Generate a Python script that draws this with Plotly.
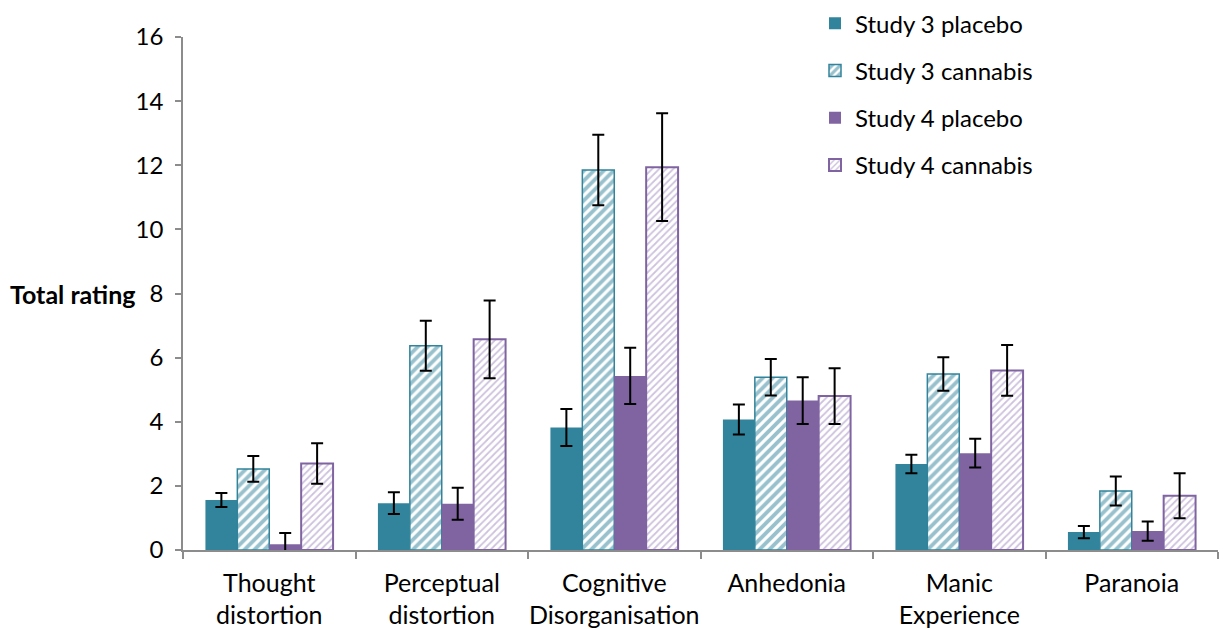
import plotly.graph_objects as go

# Symptom categories along the x axis
categories = [
    "Thought<br>distortion",
    "Perceptual<br>distortion",
    "Cognitive<br>Disorganisation",
    "Anhedonia",
    "Manic<br>Experience",
    "Paranoia",
]

# Mean total ratings per group
study3_placebo = [1.56, 1.46, 3.82, 4.07, 2.68, 0.56]
study3_cannabis = [2.53, 6.37, 11.85, 5.39, 5.49, 1.84]
study4_placebo = [0.18, 1.44, 5.43, 4.66, 3.02, 0.59]
study4_cannabis = [2.70, 6.57, 11.94, 4.80, 5.60, 1.69]

# Standard errors (error bar half-lengths)
study3_placebo_se = [0.22, 0.34, 0.58, 0.47, 0.29, 0.19]
study3_cannabis_se = [0.40, 0.78, 1.10, 0.57, 0.52, 0.45]
study4_placebo_se = [0.35, 0.50, 0.88, 0.73, 0.45, 0.30]
study4_cannabis_se = [0.63, 1.21, 1.68, 0.87, 0.79, 0.70]

series_names = ["Study 3 placebo", "Study 3 cannabis", "Study 4 placebo", "Study 4 cannabis"]

TEAL = "#31849B"
PURPLE = "#8064A2"
FONT = "Lato"
FS = 24

fig = go.Figure()

def err(arr):
    return dict(type="data", array=arr, visible=True, color="black", thickness=2, width=6)

fig.add_trace(go.Bar(
    name=series_names[0], x=categories, y=study3_placebo, error_y=err(study3_placebo_se),
    marker=dict(color=TEAL, line=dict(color=TEAL, width=0)),
    legendgroup="a",
))
fig.add_trace(go.Bar(
    name=series_names[1], x=categories, y=study3_cannabis, error_y=err(study3_cannabis_se),
    marker=dict(
        color="white",
        line=dict(color=TEAL, width=1.5),
        pattern=dict(shape="/", fgcolor=TEAL, bgcolor="white", size=7, solidity=0.55, fillmode="overlay"),
    ),
    legendgroup="b",
))
fig.add_trace(go.Bar(
    name=series_names[2], x=categories, y=study4_placebo, error_y=err(study4_placebo_se),
    marker=dict(color=PURPLE, line=dict(color=PURPLE, width=0)),
    legendgroup="c",
))
fig.add_trace(go.Bar(
    name=series_names[3], x=categories, y=study4_cannabis, error_y=err(study4_cannabis_se),
    marker=dict(
        color="white",
        line=dict(color=PURPLE, width=2),
        pattern=dict(shape="/", fgcolor="#9C86BC", bgcolor="white", size=5, solidity=0.35, fillmode="overlay"),
    ),
    legendgroup="d",
))

fig.update_layout(
    width=1223,
    height=629,
    margin=dict(l=183, r=5, t=37, b=79, autoexpand=False),
    paper_bgcolor="white",
    plot_bgcolor="white",
    barmode="group",
    bargap=0.26,
    bargroupgap=0,
    font=dict(family=FONT, size=FS, color="black"),
    showlegend=True,
    legend=dict(
        xref="container", yref="container",
        x=0.6664, y=0.998, xanchor="left", yanchor="top",
        font=dict(family=FONT, size=FS, color="black"),
        tracegroupgap=13,
        bgcolor="rgba(0,0,0,0)",
    ),
    xaxis=dict(
        showline=True, linecolor="#8C8C8C", linewidth=1.5,
        ticks="outside", tickson="boundaries", ticklen=7, tickcolor="#8C8C8C", tickwidth=1.5,
        tickfont=dict(family=FONT, size=25, color="black"),
        tickangle=0,
        ticklabelstandoff=10,
        automargin=False,
        showgrid=False,
    ),
    yaxis=dict(
        range=[0, 16], dtick=2, tick0=0,
        showline=True, linecolor="#8C8C8C", linewidth=1.5,
        ticks="outside", ticklen=6, tickcolor="#8C8C8C", tickwidth=1.5,
        tickfont=dict(family=FONT, size=FS, color="black"),
        ticklabelstandoff=7,
        automargin=False,
        showgrid=False, zeroline=False,
    ),
    annotations=[
        dict(
            text="<b>Total rating</b>", xref="paper", yref="y", x=-0.044, y=8,
            xanchor="right", yanchor="middle", showarrow=False,
            font=dict(family=FONT, size=25, color="black"),
        )
    ],
)

fig.write_html("out.html")
